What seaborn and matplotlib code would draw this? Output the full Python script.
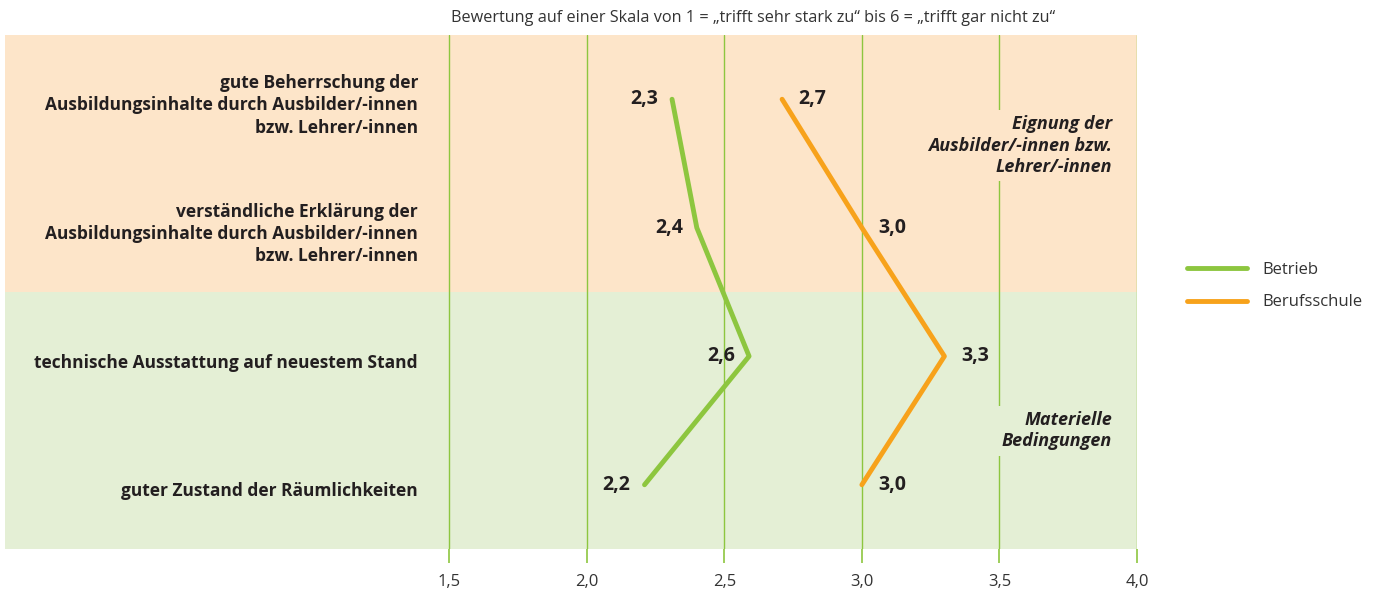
import matplotlib
matplotlib.use('Agg')
import matplotlib.pyplot as plt
import pandas as pd
import seaborn as sns

# data
items = ['gute Beherrschung der\nAusbildungsinhalte durch Ausbilder/-innen\nbzw. Lehrer/-innen',
         'verständliche Erklärung der\nAusbildungsinhalte durch Ausbilder/-innen\nbzw. Lehrer/-innen',
         'technische Ausstattung auf neuestem Stand',
         'guter Zustand der Räumlichkeiten']
betrieb = [2.31, 2.40, 2.59, 2.21]
berufsschule = [2.71, 3.00, 3.30, 3.00]
series_names = ['Betrieb', 'Berufsschule']
groups = ['Eignung der\nAusbilder/-innen bzw.\nLehrer/-innen', 'Materielle\nBedingungen']
xticks = [1.5, 2.0, 2.5, 3.0, 3.5, 4.0]
title = 'Bewertung auf einer Skala von 1 = „trifft sehr stark zu“ bis 6 = „trifft gar nicht zu“'

green = '#8dc63f'
orange = '#f7a21b'
bg_orange = '#fde5c9'
bg_green = '#e4efd5'
dark = '#231f20'

sns.set_style('white')
plt.rcParams['font.family'] = ['Open Sans', 'DejaVu Sans']

df = pd.DataFrame({
    'pos': list(range(len(items))) * 2,
    'Wert': betrieb + berufsschule,
    'Ort': [series_names[0]] * len(items) + [series_names[1]] * len(items),
})

fig = plt.figure(figsize=(13.78, 5.95), dpi=100)
ax = fig.add_axes([5 / 1378, 1 - 549 / 595, (1137 - 5) / 1378, (549 - 35) / 595])

# backgrounds
ax.axhspan(-0.5, 1.5, color=bg_orange, zorder=0, lw=0)
ax.axhspan(1.5, 3.5, color=bg_green, zorder=0, lw=0)

sns.lineplot(data=df, x='Wert', y='pos', hue='Ort', orient='y', estimator=None,
             sort=False, palette=[green, orange], lw=3.5, ax=ax, zorder=3,
             legend=True)

ax.set_xlim(1.5 - 444 / 275, 4.0)
ax.set_ylim(3.5, -0.5)
ax.set_axisbelow('line')
ax.set_xticks(xticks)
ax.set_xticklabels([f'{t:.1f}'.replace('.', ',') for t in xticks], fontsize=12, color='#333333')
ax.set_yticks([])
ax.tick_params(axis='x', direction='out', length=10, width=1.2, color=green, pad=8, bottom=True)
ax.grid(axis='x', color=green, lw=1)
ax.grid(axis='y', visible=False)
for s in ax.spines.values():
    s.set_visible(False)
ax.set_xlabel('')
ax.set_ylabel('')

# category labels
for i, lab in enumerate(items):
    ax.annotate(lab, (1.387, i), xytext=(0, -4.5), textcoords='offset points',
                ha='right', va='center', fontsize=12.5, fontweight='bold',
                color=dark, linespacing=1.3)

# value labels
for i, v in enumerate(betrieb):
    ax.annotate(f'{v:.1f}'.replace('.', ','), (v, i), xytext=(-10, 0), textcoords='offset points',
                ha='right', va='center', fontsize=14, fontweight='bold', color=dark, zorder=5)
for i, v in enumerate(berufsschule):
    ax.annotate(f'{v:.1f}'.replace('.', ','), (v, i), xytext=(12, 0), textcoords='offset points',
                ha='left', va='center', fontsize=14, fontweight='bold', color=dark, zorder=5)

# group labels
ax.text(3.91, 0.36, groups[0], ha='right', va='center', fontsize=13, fontweight='bold',
        style='italic', color=dark, linespacing=1.22, zorder=4,
        bbox=dict(facecolor=bg_orange, edgecolor='none', pad=4))
ax.text(3.91, 2.58, groups[1], ha='right', va='center', fontsize=13, fontweight='bold',
        style='italic', color=dark, linespacing=1.22, zorder=4,
        bbox=dict(facecolor=bg_green, edgecolor='none', pad=4))

# legend
handles, labels = ax.get_legend_handles_labels()
ax.get_legend().remove()
fig.legend(handles, labels, loc='center left', bbox_to_anchor=(1172 / 1378, 1 - 286 / 595),
           frameon=False, fontsize=12, handlelength=3.6, handletextpad=0.9, labelspacing=1.0,
           labelcolor='#333333')

fig.text(753 / 1378, 1 - 18 / 595, title, ha='center', va='center', fontsize=11.7, color='#333333')

fig.savefig('out.png', dpi=100)
